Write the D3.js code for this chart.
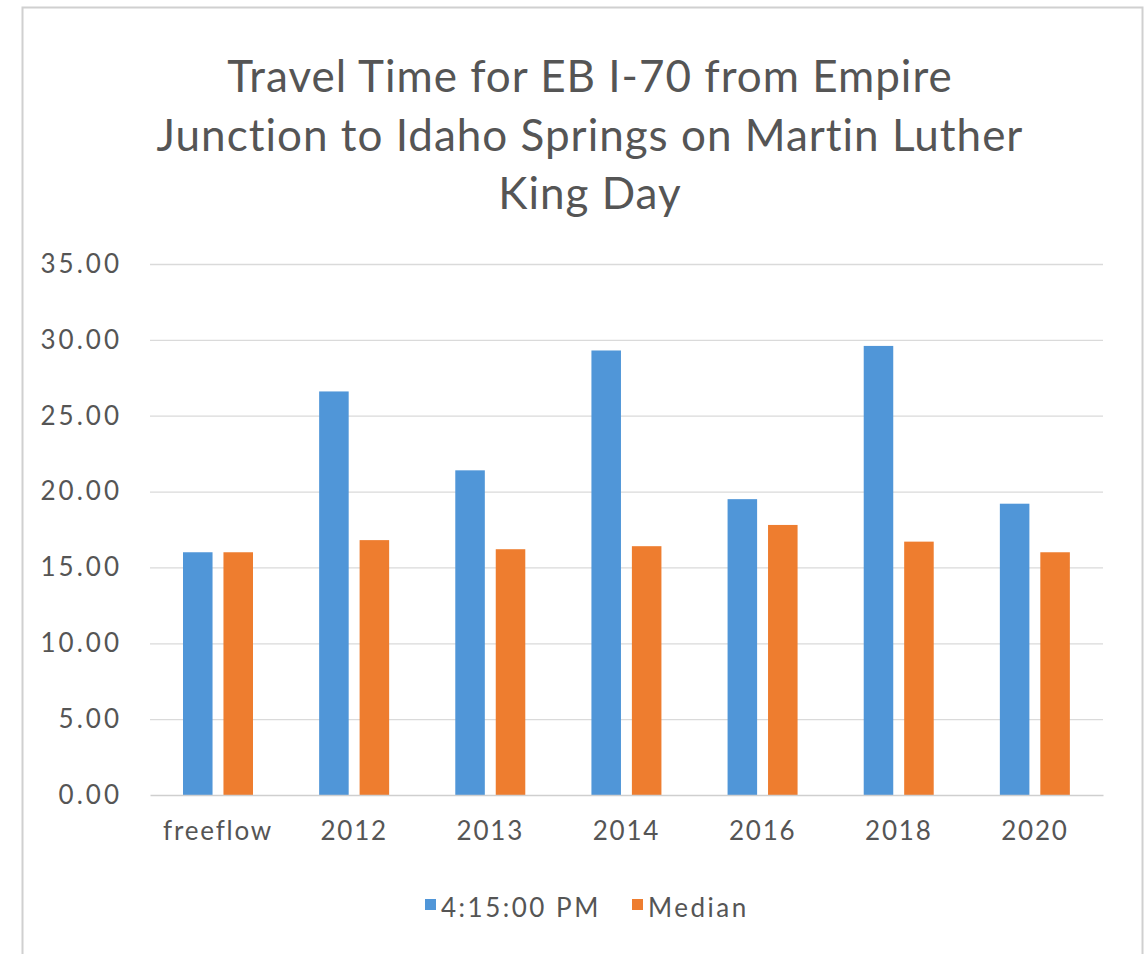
<!DOCTYPE html>
<html>
<head>
<meta charset="utf-8">
<script src="https://cdn.jsdelivr.net/npm/d3@7"></script>
<style>
  body { margin: 0; background: #fff; }
  svg text { font-family: Lato, "Open Sans", sans-serif; }
</style>
</head>
<body>
<div id="chart"></div>
<script>
// data
var categories = ["freeflow", "2012", "2013", "2014", "2016", "2018", "2020"];
var seriesNames = ["4:15:00 PM", "Median"];
var pmValues = [16.0, 26.6, 21.4, 29.3, 19.5, 29.6, 19.2];
var medianValues = [16.0, 16.8, 16.2, 16.4, 17.8, 16.7, 16.0];
var yTicks = [0, 5, 10, 15, 20, 25, 30, 35];
var titleLines = ["Travel Time for EB I-70 from Empire",
                  "Junction to Idaho Springs on Martin Luther",
                  "King Day"];

var width = 1148, height = 954;
var colors = ["#5096d8", "#ee7d2f"];

var svg = d3.select("#chart")
    .append("svg")
    .attr("width", width)
    .attr("height", height);

// outer frame
svg.append("rect")
    .attr("x", 22.5).attr("y", 7.5)
    .attr("width", 1120).attr("height", 960)
    .attr("fill", "#fff")
    .attr("stroke", "#d0d0d0")
    .attr("stroke-width", 2);

var plot = { left: 150, right: 1103, top: 264, bottom: 795 };

var x = d3.scaleBand()
    .domain(categories)
    .range([plot.left, plot.right]);

var x1 = d3.scaleBand()
    .domain(seriesNames)
    .range([33, 103])
    .paddingInner(0.27);

var y = d3.scaleLinear()
    .domain([0, 35])
    .range([plot.bottom, plot.top]);

// gridlines
svg.append("g")
    .selectAll("line")
    .data(yTicks.filter(function (d) { return d > 0; }))
    .enter().append("line")
    .attr("x1", plot.left).attr("x2", plot.right)
    .attr("y1", function (d) { return y(d) + 0.5; })
    .attr("y2", function (d) { return y(d) + 0.5; })
    .attr("stroke", "#dadada")
    .attr("stroke-width", 1.3);

// y axis labels
var yAxis = svg.append("g")
    .attr("transform", "translate(" + plot.left + ",0)")
    .call(d3.axisLeft(y).tickValues(yTicks).tickFormat(d3.format(".2f")).tickSize(0).tickPadding(28));
yAxis.select(".domain").remove();
yAxis.selectAll("text")
    .style("font-size", "26px")
    .style("letter-spacing", "3px")
    .attr("fill", "#555");

// bars
var groups = svg.append("g")
    .selectAll("g")
    .data(categories)
    .enter().append("g")
    .attr("transform", function (d) { return "translate(" + x(d) + ",0)"; });

groups.selectAll("rect")
    .data(function (d, i) { return [pmValues[i], medianValues[i]]; })
    .enter().append("rect")
    .attr("x", function (d, j) { return x1(seriesNames[j]); })
    .attr("width", x1.bandwidth())
    .attr("y", function (d) { return y(d); })
    .attr("height", function (d) { return y(0) - y(d); })
    .attr("fill", function (d, j) { return colors[j]; });

// x axis
var xAxis = svg.append("g")
    .attr("transform", "translate(0," + plot.bottom + ")")
    .call(d3.axisBottom(x).tickSize(0).tickPadding(27));
xAxis.select(".domain")
    .attr("stroke", "#cfcfcf")
    .attr("stroke-width", 1.5);
xAxis.selectAll("text")
    .style("font-size", "26px")
    .style("letter-spacing", "1.8px")
    .attr("fill", "#555");

// title
svg.append("g")
    .selectAll("text")
    .data(titleLines)
    .enter().append("text")
    .attr("x", 590)
    .attr("y", function (d, i) { return 92 + i * 58.5; })
    .attr("text-anchor", "middle")
    .style("font-size", "44px")
    .style("letter-spacing", "1px")
    .attr("fill", "#555")
    .text(function (d) { return d; });

// legend
var legend = svg.append("g");
var legendX = [425, 632];
seriesNames.forEach(function (name, i) {
    legend.append("rect")
        .attr("x", legendX[i]).attr("y", 899)
        .attr("width", 11).attr("height", 11)
        .attr("fill", colors[i]);
    legend.append("text")
        .attr("x", legendX[i] + 16).attr("y", 917)
        .style("font-size", "26px")
        .style("letter-spacing", "2.5px")
        .attr("fill", "#555")
        .text(name);
});
</script>
</body>
</html>
